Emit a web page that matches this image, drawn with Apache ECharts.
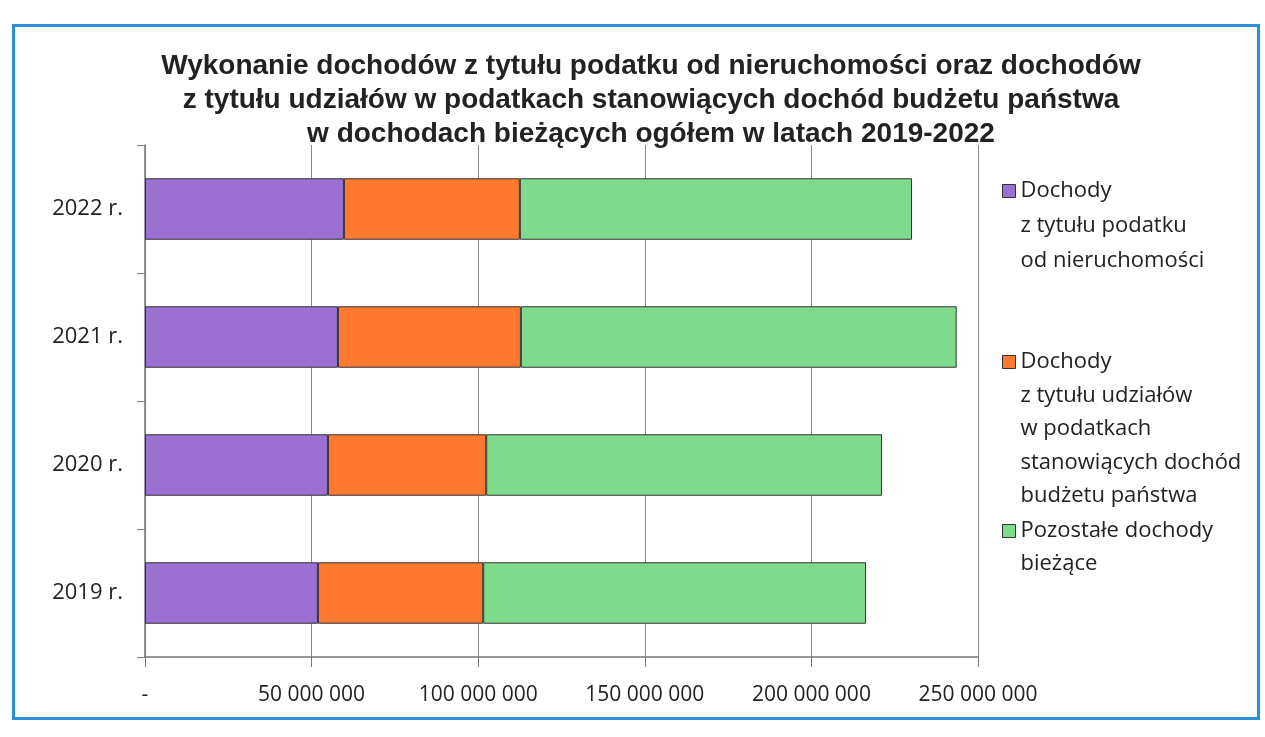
<!DOCTYPE html>
<html>
<head>
<meta charset="utf-8">
<title>Wykonanie dochodów</title>
<script src="https://cdn.jsdelivr.net/npm/echarts@6/dist/echarts.min.js"></script>
<style>
	html, body { margin: 0; padding: 0; background: #ffffff; }
	#frame { position: absolute; left: 12px; top: 24px; width: 1248px; height: 696px; border: 3px solid #2e8fd8; box-sizing: border-box; }
	#chart { position: absolute; left: 0; top: 0; width: 1265px; height: 737px; }
</style>
</head>
<body>
<div id="frame"></div>
<div id="chart"></div>
<script>
	// lata (od dołu do góry na wykresie)
	const years = ['2019 r.', '2020 r.', '2021 r.', '2022 r.']
	const seriesNames = [
		'Dochody\nz tytułu podatku\nod nieruchomości',
		'Dochody\nz tytułu udziałów\nw podatkach\nstanowiących dochód\nbudżetu państwa',
		'Pozostałe dochody\nbieżące'
	]
	const propertyTax = [51900000, 54900000, 57900000, 59700000]
	const budgetShares = [49600000, 47500000, 54900000, 52800000]
	const otherIncome = [114900000, 118800000, 130800000, 117700000]
	const colors = ['#9a70d2', '#ff7a30', '#7fdb8b']

	let mychart = echarts.init(document.getElementById('chart'))

	const fmt = function (v) {
		if (v === 0) return '-'
		return String(v).replace(/\B(?=(\d{3})+(?!\d))/g, ' ')
	}

	// legenda: ikonka przy pierwszej linii tekstu (puste linie nad tekstem centrują blok na pierwszej linii)
	const lineH = [35, 33.5, 33]
	const iconCenter = [191, 362, 531]
	let legends = seriesNames.map(function (name, i) {
		let n = name.split('\n').length
		return {
			data: [name],
			orient: 'vertical',
			left: 1002,
			top: iconCenter[i] - (2 * n - 1) * lineH[i] / 2,
			padding: 0,
			itemWidth: 13,
			itemHeight: 13,
			itemGap: 0,
			icon: 'rect',
			selectedMode: false,
			formatter: function (nm) {
				return ' \n'.repeat(nm.split('\n').length - 1) + nm
			},
			itemStyle: { borderColor: '#333', borderWidth: 1 },
			textStyle: {
				fontFamily: 'Open Sans',
				fontSize: 22,
				color: '#222',
				lineHeight: lineH[i]
			}
		}
	})

	let barSeries = [propertyTax, budgetShares, otherIncome].map(function (vals, i) {
		return {
			name: seriesNames[i],
			type: 'bar',
			stack: 'total',
			data: vals,
			barWidth: '48%',
			itemStyle: { color: colors[i], borderColor: '#333', borderWidth: 1 }
		}
	})

	let option = {
		animation: false,
		title: {
			text: 'Wykonanie dochodów z tytułu podatku od nieruchomości oraz dochodów\nz tytułu udziałów w podatkach stanowiących dochód budżetu państwa\nw dochodach bieżących ogółem w latach 2019-2022',
			left: 646,
			top: 44,
			textAlign: 'center',
			textStyle: {
				fontFamily: 'Liberation Sans',
				fontWeight: 'bold',
				fontSize: 28,
				lineHeight: 34,
				color: '#222'
			}
		},
		legend: legends,
		grid: { left: 145, right: 287, top: 145, bottom: 80 },
		xAxis: {
			type: 'value',
			min: 0,
			max: 250000000,
			interval: 50000000,
			axisLine: { show: true, lineStyle: { color: '#777', width: 1.5 } },
			axisTick: { show: true, length: 10, lineStyle: { color: '#777' } },
			splitLine: { show: true, lineStyle: { color: '#888', width: 1 } },
			axisLabel: {
				formatter: fmt,
				margin: 28,
				fontFamily: 'Open Sans',
				fontSize: 21,
				color: '#222'
			}
		},
		yAxis: {
			type: 'category',
			data: years,
			axisLine: { show: true, lineStyle: { color: '#777', width: 1.5 } },
			axisTick: { show: true, length: 8, lineStyle: { color: '#777' } },
			axisLabel: {
				margin: 22,
				fontFamily: 'Open Sans',
				fontSize: 22,
				color: '#222'
			}
		},
		series: barSeries
	}
	mychart.setOption(option)
</script>
</body>
</html>
